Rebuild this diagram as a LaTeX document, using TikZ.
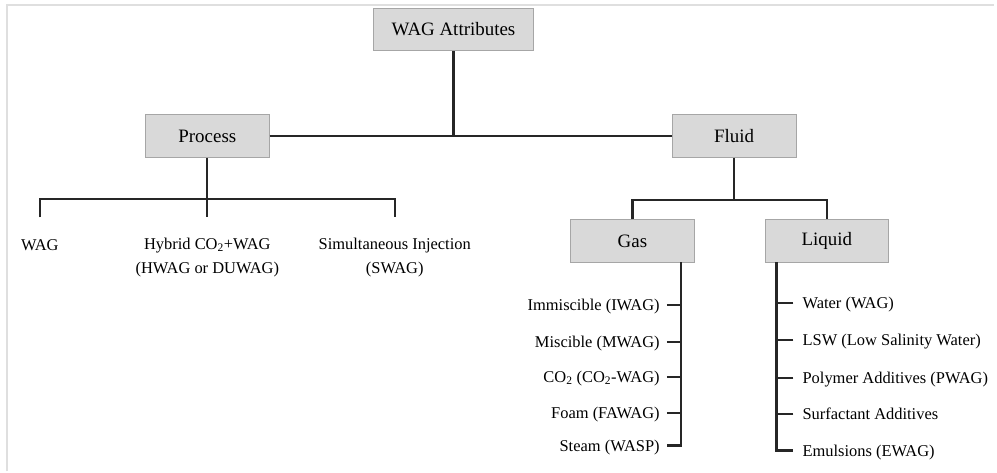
\documentclass[tikz,border=0pt]{standalone}
\usepackage{fontspec}
\setmainfont{Liberation Serif}
\begin{document}
\begin{tikzpicture}[x=1pt, y=-1pt,
		box/.style={draw=gray!70, line width=0.8pt, fill=gray!30, minimum width=124pt, minimum height=43pt, inner sep=0pt, font=\fontsize{19}{22}\selectfont},
		leaf/.style={align=center, inner sep=0pt, font=\fontsize{16.5}{24}\selectfont},
		item/.style={inner ysep=0pt, text height=11pt, text depth=0pt, font=\fontsize{16.5}{20}\selectfont},
		link/.style={draw=black!85, line width=2.2pt}]
	% frame and size of the page
	\path (0,0) rectangle (997,473);
	\draw[gray!25, line width=2pt] (7,473) -- (7,5.5) -- (997,5.5);
	% the boxes
	\node[box, minimum width=160pt] (attr) at (455,29.5) {WAG Attributes};
	\node[box] (proc) at (208,136.5) {Process};
	\node[box] (fluid) at (736.5,136.5) {Fluid};
	\node[box] (gas) at (634.5,242) {Gas};
	\node[box] (liq) at (829.5,242) {Liquid};
	\draw[link] (proc.east) -- (fluid.west);
	\draw[link] (attr.south) -- (attr.south |- proc.east);
	% process branch
	\node[leaf] (wag) at (40,246) {WAG};
	\node[leaf] (hyb) at (208,258) {Hybrid CO\textsubscript{2}+WAG\\(HWAG or DUWAG)};
	\node[leaf] (swag) at (396,258) {Simultaneous Injection\\(SWAG)};
	\coordinate (pbar) at (208,200);
	\coordinate (wagtip) at (40,218);
	\coordinate (hybtip) at (208,218);
	\coordinate (swagtip) at (396,218);
	\draw[link] (proc.south) -- (hybtip);
	\draw[link] (wagtip) -- (wagtip |- pbar) -- (swagtip |- pbar) -- (swagtip);
	% fluid branch
	\coordinate (fbar) at (736.5,201);
	\draw[link] (fluid.south) -- (fbar);
	\draw[link] (gas.north) -- (gas.north |- fbar) -- (liq.north |- fbar) -- (liq.north);
	% gas kinds
	\coordinate (gx) at (683,263);
	\node[item, anchor=east, inner xsep=7pt] (imm) at (669,306) {Immiscible (IWAG)};
	\node[item, anchor=east, inner xsep=7pt] (mis) at (669,343) {Miscible (MWAG)};
	\node[item, anchor=east, inner xsep=7pt] (co2) at (669,378) {CO\textsubscript{2} (CO\textsubscript{2}-WAG)};
	\node[item, anchor=east, inner xsep=7pt] (foam) at (669,414) {Foam (FAWAG)};
	\node[item, anchor=east, inner xsep=7pt] (steam) at (669,447) {Steam (WASP)};
	\draw[link] (gx) -- (gx |- steam.east) -- (steam.east);
	\draw[link] (imm.east) -- (imm.east -| gx);
	\draw[link] (mis.east) -- (mis.east -| gx);
	\draw[link] (co2.east) -- (co2.east -| gx);
	\draw[link] (foam.east) -- (foam.east -| gx);
	% liquid kinds
	\coordinate (lx) at (779,263);
	\node[item, anchor=west, inner xsep=9pt] (water) at (796,304) {Water (WAG)};
	\node[item, anchor=west, inner xsep=9pt] (lsw) at (796,341) {LSW (Low Salinity Water)};
	\node[item, anchor=west, inner xsep=9pt] (poly) at (796,379) {Polymer Additives (PWAG)};
	\node[item, anchor=west, inner xsep=9pt] (surf) at (796,415) {Surfactant Additives};
	\node[item, anchor=west, inner xsep=9pt] (emul) at (796,452) {Emulsions (EWAG)};
	\draw[link] (lx) -- (lx |- emul.west) -- (emul.west);
	\draw[link] (water.west) -- (water.west -| lx);
	\draw[link] (lsw.west) -- (lsw.west -| lx);
	\draw[link] (poly.west) -- (poly.west -| lx);
	\draw[link] (surf.west) -- (surf.west -| lx);
\end{tikzpicture}
\end{document}
